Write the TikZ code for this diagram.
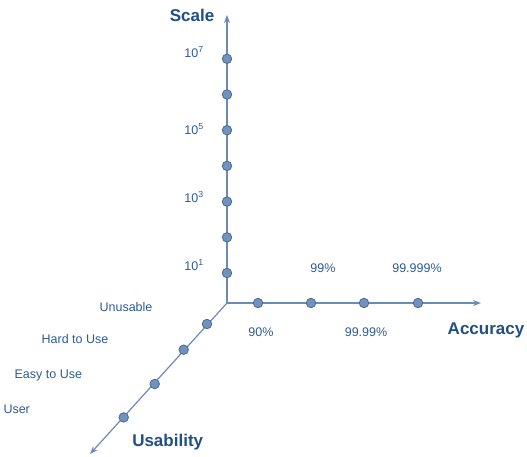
\documentclass[tikz,border=0pt]{standalone}
\usepackage{fontspec}
\setmainfont{Liberation Sans}
\usepackage{tikz}
\usetikzlibrary{arrows.meta, positioning}
\definecolor{axisBlue}{HTML}{6A8BB8}
\definecolor{dotBlue}{HTML}{7291BB}
\definecolor{dotBorder}{HTML}{4A6A94}
\definecolor{textBlue}{HTML}{2C5C96}
\definecolor{titleBlue}{HTML}{1F4F86}

\tikzset{
    tick/.style={circle, draw=dotBorder, fill=dotBlue, line width=0.8pt, inner sep=0pt, minimum width=8.5pt, minimum height=9.5pt},
    ticklabel/.style={text=textBlue, font=\fontsize{12.5}{14}\selectfont, inner sep=1pt},
    axislabel/.style={text=titleBlue, font=\fontsize{17}{20}\selectfont\bfseries, inner sep=1pt}
}

\begin{document}
\begin{tikzpicture}[x=1pt, y=1pt, >={Stealth[length=8pt, width=6pt]}]
            \useasboundingbox (-227,-153) rectangle (300,303);
            \coordinate (O) at (0,0);
            \coordinate (scaleTip) at (0,288);
            \coordinate (accTip) at (254,0);
            \coordinate (useTip) at (-137,-151);
            % axes
            \draw[->, line width=1.2pt, axisBlue] (O) -- (scaleTip);
            \draw[->, line width=1.2pt, axisBlue] (O) -- (accTip);
            \draw[->, line width=1.2pt, axisBlue] (O) -- (useTip);
            % scale
            \node[tick] (s1) at (0,30) {};
            \node[tick] (s2) at (0,65.7) {};
            \node[tick] (s3) at (0,101.4) {};
            \node[tick] (s4) at (0,137.1) {};
            \node[tick] (s5) at (0,172.8) {};
            \node[tick] (s6) at (0,208.5) {};
            \node[tick] (s7) at (0,244.2) {};
            \node[ticklabel] (l1) at (-33,38) {10\textsuperscript{1}};
            \node[ticklabel] (l3) at (-33,106) {10\textsuperscript{3}};
            \node[ticklabel] (l5) at (-33,174) {10\textsuperscript{5}};
            \node[ticklabel] (l7) at (-33,251) {10\textsuperscript{7}};
            \node[axislabel] (scale) at (-35,288) {Scale};
            % accuracy
            \node[tick] (a1) at (31,0) {};
            \node[tick] (a2) at (84,0) {};
            \node[tick] (a3) at (137,0) {};
            \node[tick] (a4) at (191,0) {};
            \node[ticklabel] (p90) at (34,-29) {90\%};
            \node[ticklabel] (p99) at (96,35) {99\%};
            \node[ticklabel] (p9999) at (139,-29) {99.99\%};
            \node[ticklabel] (p99999) at (190,35) {99.999\%};
            \node[axislabel] (accuracy) at (259,-27) {Accuracy};
            % usability
            \node[tick] (u1) at (-20,-21) {};
            \node[tick] (u2) at (-43.3,-46.7) {};
            \node[tick] (u3) at (-72.3,-81) {};
            \node[tick] (u4) at (-103.3,-114.4) {};
            \node[ticklabel] (unusable) at (-101,-3.7) {Unusable};
            \node[ticklabel] (hard) at (-152,-36) {Hard to Use};
            \node[ticklabel] (easy) at (-178.7,-72.7) {Easy to Use};
            \node[ticklabel] (user) at (-210.3,-106) {User};
            \node[axislabel] (usability) at (-59.3,-138.7) {Usability};
        \end{tikzpicture}
\end{document}
